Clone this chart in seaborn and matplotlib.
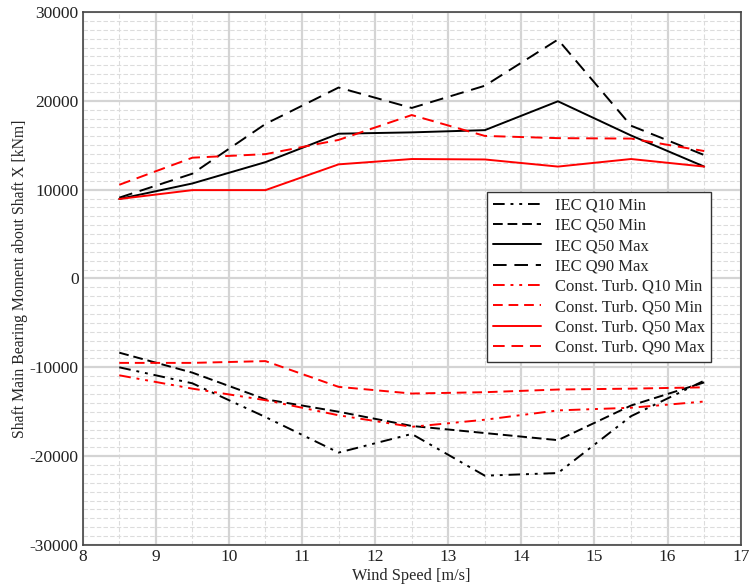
import numpy as np
import pandas as pd
import matplotlib
matplotlib.use("Agg")
import matplotlib.pyplot as plt
import seaborn as sns
from matplotlib.ticker import MultipleLocator

wind_speed = [8.5, 9.5, 10.5, 11.5, 12.5, 13.5, 14.5, 15.5, 16.5]

series_names = [
    "IEC Q10 Min", "IEC Q50 Min", "IEC Q50 Max", "IEC Q90 Max",
    "Const. Turb. Q10 Min", "Const. Turb. Q50 Min",
    "Const. Turb. Q50 Max", "Const. Turb. Q90 Max",
]

iec_q10_min = [-10000, -11800, -15600, -19600, -17500, -22200, -21900, -15500, -11500]
iec_q50_min = [-8350, -10600, -13600, -15000, -16600, -17400, -18200, -14300, -11700]
iec_q50_max = [8950, 10700, 13100, 16300, 16450, 16700, 19950, 16100, 12600]
iec_q90_max = [9100, 11800, 17400, 21500, 19200, 21700, 26900, 17200, 13900]
ct_q10_min = [-10900, -12400, -13700, -15400, -16700, -15900, -14850, -14550, -13850]
ct_q50_min = [-9500, -9500, -9300, -12200, -12950, -12800, -12500, -12400, -12250]
ct_q50_max = [8950, 9950, 9950, 12850, 13450, 13400, 12600, 13450, 12600]
ct_q90_max = [10550, 13600, 14000, 15600, 18400, 16050, 15800, 15750, 14350]

all_values = [iec_q10_min, iec_q50_min, iec_q50_max, iec_q90_max,
              ct_q10_min, ct_q50_min, ct_q50_max, ct_q90_max]

rows = []
for name, vals in zip(series_names, all_values):
    for x, v in zip(wind_speed, vals):
        rows.append({"Wind Speed": x, "Moment": v, "Series": name})
df = pd.DataFrame(rows)

palette = {n: ("black" if n.startswith("IEC") else "red") for n in series_names}
dashes = {
    "IEC Q10 Min": (6, 3, 1.5, 3, 1.5, 3),
    "IEC Q50 Min": (5, 2.5),
    "IEC Q50 Max": "",
    "IEC Q90 Max": (7, 4),
    "Const. Turb. Q10 Min": (6, 3, 1.5, 3, 1.5, 3),
    "Const. Turb. Q50 Min": (5, 3),
    "Const. Turb. Q50 Max": "",
    "Const. Turb. Q90 Max": (6, 3.5),
}

sns.set_theme(style="white")
plt.rcParams["font.family"] = ["Liberation Serif", "DejaVu Serif"]
plt.rcParams["axes.unicode_minus"] = False

fig = plt.figure(figsize=(7.52, 5.86), dpi=100)
ax = fig.add_axes([0.110, 0.070, 0.875, 0.9095])

sns.lineplot(data=df, x="Wind Speed", y="Moment", hue="Series", style="Series",
             hue_order=series_names, style_order=series_names,
             palette=palette, dashes=dashes, linewidth=1.4, ax=ax, sort=False)

ax.set_xlim(8, 17)
ax.set_ylim(-30000, 30000)
ax.xaxis.set_major_locator(MultipleLocator(1))
ax.xaxis.set_minor_locator(MultipleLocator(0.5))
ax.yaxis.set_major_locator(MultipleLocator(10000))
ax.yaxis.set_minor_locator(MultipleLocator(1000))
ax.grid(which="major", color="#d4d4d4", linestyle="-", linewidth=1.6)
ax.grid(which="minor", color="#dcdcdc", linestyle=(0, (4, 2)), linewidth=0.8)
ax.set_axisbelow(True)
ax.tick_params(axis="both", which="both", length=0, labelsize=12.5, colors="#222222", pad=3)
for s in ax.spines.values():
    s.set_color("#444444")
    s.set_linewidth(1.2)

ax.set_xlabel("Wind Speed [m/s]", fontsize=11.7, labelpad=2)
ax.set_ylabel("Shaft Main Bearing Moment about Shaft X [kNm]", fontsize=11.3, labelpad=1)

leg = ax.legend(loc="upper left", bbox_to_anchor=(0.6145, 0.663), fontsize=12,
                frameon=True, fancybox=False, shadow=False, handlelength=2.9,
                labelspacing=0.26, borderpad=0.35, handletextpad=0.8,
                borderaxespad=0)
leg.get_frame().set_edgecolor("#333333")
leg.get_frame().set_linewidth(1.0)
leg.get_frame().set_alpha(1.0)

fig.savefig("out.png", dpi=100)
